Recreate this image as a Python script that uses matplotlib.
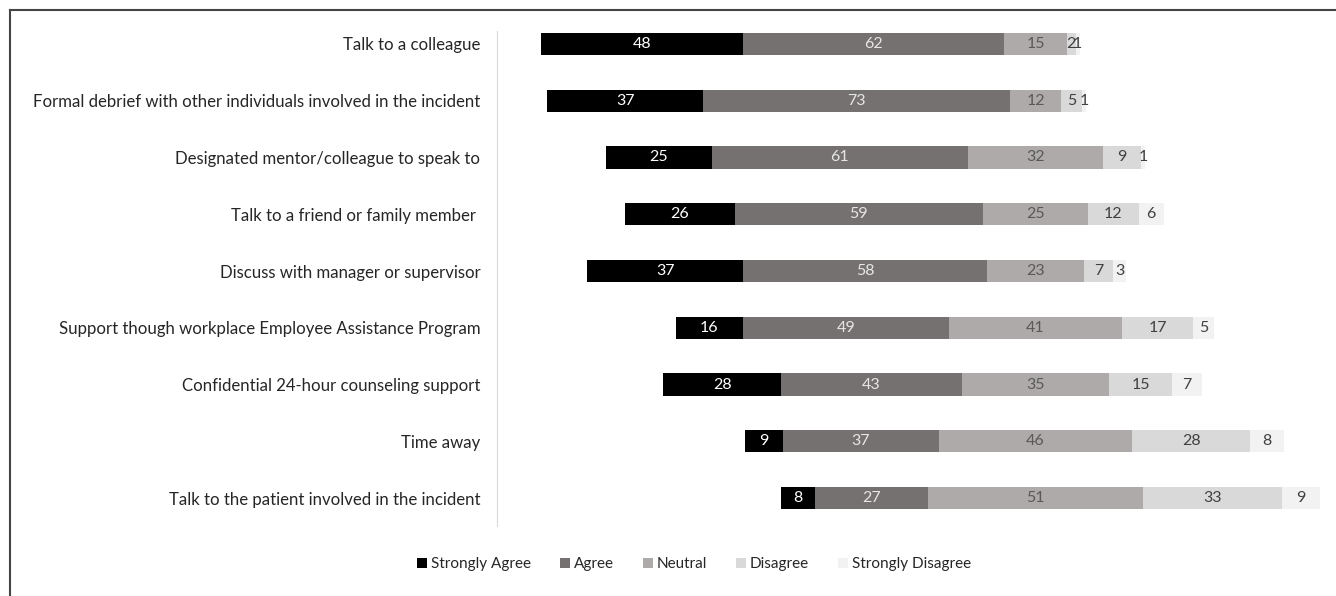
import matplotlib
matplotlib.use("Agg")
import matplotlib.pyplot as plt
from matplotlib.patches import Patch
from matplotlib.lines import Line2D
import numpy as np

categories = [
    "Talk to a colleague",
    "Formal debrief with other individuals involved in the incident",
    "Designated mentor/colleague to speak to",
    "Talk to a friend or family member ",
    "Discuss with manager or supervisor",
    "Support though workplace Employee Assistance Program",
    "Confidential 24-hour counseling support",
    "Time away",
    "Talk to the patient involved in the incident",
]
series_names = ["Strongly Agree", "Agree", "Neutral", "Disagree", "Strongly Disagree"]
strongly_agree = [48, 37, 25, 26, 37, 16, 28, 9, 8]
agree = [62, 73, 61, 59, 58, 49, 43, 37, 27]
neutral = [15, 12, 32, 25, 23, 41, 35, 46, 51]
disagree = [2, 5, 9, 12, 7, 17, 15, 28, 33]
strongly_disagree = [1, 1, 1, 6, 3, 5, 7, 8, 9]

colors = ["#000000", "#767171", "#AEAAAA", "#D9D9D9", "#F2F2F2"]
text_colors = ["#FFFFFF", "#E6E6E6", "#595959", "#404040", "#404040"]

W, H = 1336, 596
fig = plt.figure(figsize=(W / 100, H / 100), dpi=100)
plt.rcParams["font.family"] = ["Lato", "DejaVu Sans"]

# figure frame (top and left border visible)
fig.add_artist(Line2D([10 / W, 10 / W], [0, 1 - 10 / H], transform=fig.transFigure, color="#444444", lw=1.5))
fig.add_artist(Line2D([10 / W, 1], [1 - 10 / H, 1 - 10 / H], transform=fig.transFigure, color="#444444", lw=1.5))

ax_left, ax_right = 497, 1336
ax_top, ax_bot = 15.6, 526.4
ax = fig.add_axes([ax_left / W, 1 - ax_bot / H, (ax_right - ax_left) / W, (ax_bot - ax_top) / H])

data = np.array([strongly_agree, agree, neutral, disagree, strongly_disagree], dtype=float)
center = 128.0
offset = center - data[0] - data[1] - data[2] / 2.0
y = np.arange(len(categories))
left = offset.copy()
for i, name in enumerate(series_names):
    ax.barh(y, data[i], left=left, height=0.39, color=colors[i], label=name)
    for yy, l, v in zip(y, left, data[i]):
        ax.text(l + v / 2, yy, f"{int(v)}", ha="center", va="center",
                color=text_colors[i], fontsize=11.5)
    left = left + data[i]

ax.set_xlim(0, 199.4)
ax.set_ylim(len(categories) - 0.5, -0.5)
ax.set_yticks(y)
ax.set_yticklabels(categories, fontsize=12.1, color="#262626")
ax.tick_params(axis="y", length=0, pad=12)
ax.set_xticks([])
for s in ["top", "right", "bottom"]:
    ax.spines[s].set_visible(False)
ax.spines["left"].set_color("#D9D9D9")
ax.spines["left"].set_bounds(8.5, -0.22)

handles = [Patch(facecolor=c, edgecolor="none") for c in colors]
fig.legend(handles, series_names, loc="center", bbox_to_anchor=(694 / W, 1 - 564 / H),
           ncol=5, frameon=False, fontsize=11, handlelength=0.65, handleheight=0.65,
           handletextpad=0.25, columnspacing=1.9, labelcolor="#262626")

fig.savefig("out.png", dpi=100)
